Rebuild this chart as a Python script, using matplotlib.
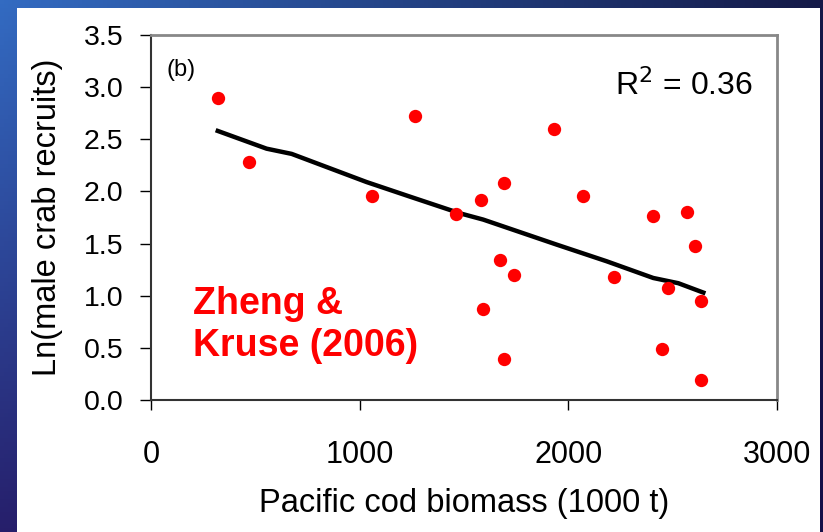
import numpy as np
import matplotlib
matplotlib.use("Agg")
import matplotlib.pyplot as plt
from matplotlib.patches import Rectangle

# --- Donnees ---
cod_biomass = [320, 470, 1057, 1265, 1462, 1581, 1692, 1931, 2070, 2407, 2567, 2607,
               1672, 1741, 2217, 2476, 2636, 1591, 1692, 2447, 2636]
ln_recruits = [2.90, 2.28, 1.96, 2.72, 1.78, 1.92, 2.08, 2.60, 1.96, 1.76, 1.80, 1.48,
               1.34, 1.20, 1.18, 1.07, 0.95, 0.87, 0.39, 0.49, 0.19]

fit_x = [320, 554, 674, 1033, 1241, 1481, 1592, 1944, 2184, 2407, 2527, 2647]
fit_y = [2.58, 2.41, 2.36, 2.09, 1.95, 1.79, 1.73, 1.49, 1.33, 1.17, 1.12, 1.03]

x_ticks = [0, 1000, 2000, 3000]
y_ticks = [0.0, 0.5, 1.0, 1.5, 2.0, 2.5, 3.0, 3.5]

plt.rcParams["font.family"] = ["Liberation Sans", "DejaVu Sans"]

W, H = 823, 532
fig = plt.figure(figsize=(W / 100, H / 100), dpi=100)

# --- Fond bleu degrade (diapo) + panneau blanc ---
bg = fig.add_axes([0, 0, 1, 1], zorder=-10)
tl = np.array([0.20, 0.42, 0.76]); tr = np.array([0.08, 0.10, 0.28])
bl = np.array([0.15, 0.12, 0.42]); br = np.array([0.08, 0.06, 0.28])
u = np.linspace(0, 1, 200)[None, :, None]
v = np.linspace(0, 1, 130)[:, None, None]
grad = (1 - v) * ((1 - u) * tl + u * tr) + v * ((1 - u) * bl + u * br)
bg.imshow(grad, aspect="auto", extent=[0, 1, 0, 1])
bg.add_patch(Rectangle((17 / W, 0), (820 - 17) / W, 1 - 8 / H,
                       facecolor="white", edgecolor="none"))
bg.set_xlim(0, 1); bg.set_ylim(0, 1)
bg.axis("off")

ax = fig.add_axes([151 / W, 1 - 400 / H, (777 - 151) / W, (400 - 35) / H])
ax.scatter(cod_biomass, ln_recruits, s=92, color="#ff0000", zorder=3, linewidths=0)
ax.plot(fit_x, fit_y, color="black", lw=3.2, zorder=2)

ax.set_xlim(0, 3000)
ax.set_ylim(0, 3.5)
ax.set_xticks(x_ticks)
ax.set_yticks(y_ticks)
ax.set_yticklabels([f"{t:.1f}" for t in y_ticks])
ax.tick_params(axis="x", direction="out", length=7, width=1, labelsize=22, pad=22)
ax.tick_params(axis="y", direction="out", length=8, width=1, labelsize=20.5, pad=12)

for s in ["left", "bottom"]:
    ax.spines[s].set_color("#333333"); ax.spines[s].set_linewidth(1.5)
for s in ["top", "right"]:
    ax.spines[s].set_color("#888888"); ax.spines[s].set_linewidth(2)

ax.set_xlabel("Pacific cod biomass (1000 t)", fontsize=23.5)
ax.xaxis.set_label_coords(0.5, -0.24)
ax.set_ylabel("Ln(male crab recruits)", fontsize=23.5)
ax.yaxis.set_label_coords(-0.14, 0.5)

ax.text(0.024, 0.905, "(b)", transform=ax.transAxes, fontsize=17, va="center")
ax.text(0.742, 0.86, "R$^2$ = 0.36", transform=ax.transAxes, fontsize=23,
        va="center")
ax.text(0.067, 0.205, "Zheng &\nKruse (2006)", transform=ax.transAxes,
        fontsize=27, fontweight="bold", color="#ff0000", va="center",
        linespacing=1.22)

fig.savefig("out.png", dpi=100)
